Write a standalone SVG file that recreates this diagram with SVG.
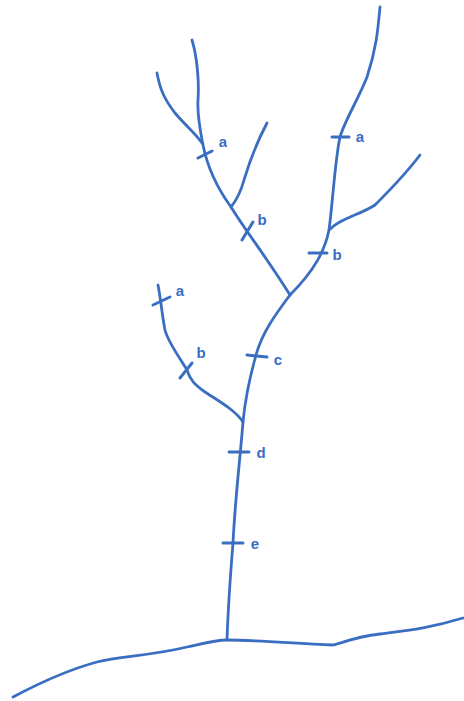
<svg xmlns="http://www.w3.org/2000/svg" width="464" height="701" viewBox="0 0 464 701">
<style>
.s{fill:none;stroke:#3a6ec2;stroke-width:2.8;stroke-linecap:round;stroke-linejoin:round}
.t{fill:none;stroke:#3a6ec2;stroke-width:3;stroke-linecap:round}
.l{font-family:"Liberation Sans",Arial,sans-serif;font-size:15px;font-weight:bold;fill:#3a6ec2;text-anchor:middle}
</style>
<rect width="464" height="701" fill="#ffffff"/>
<g id="connectors">
<path class="s" d="M13,697 C30,688 60,672 97,662 C120,656 150,656 187,647 C205,643 215,640 227,640 C250,640 290,643 333,645 C345,642 355,637 380,634 C410,630 430,628 463,618"/>
<path class="s" d="M290,295 C275,315 262,333 256,355 C249,380 245,400 243,422 C240,460 235,500 233,543 C230,580 228,610 227,640"/>
<path class="s" d="M192,40 C198,60 199,85 198,100 C197,115 200,130 203,145 C207,165 215,185 231,207 C245,230 265,255 290,295"/>
<path class="s" d="M157,73 C160,90 165,100 175,113 C185,125 195,133 202,143"/>
<path class="s" d="M267,123 C258,140 250,160 244,180 C240,195 235,202 231,207"/>
<path class="s" d="M380,7 C378,30 376,50 367,77 C358,100 345,120 340,137 C335,160 333,200 329,230 C325,250 315,270 290,295"/>
<path class="s" d="M420,155 C405,175 390,190 375,205 C360,215 340,218 329,230"/>
<path class="s" d="M158,285 C161,300 162,315 165,330 C168,342 178,355 187,370 C190,380 195,385 205,392 C220,402 235,410 243,422"/>
</g>
<g id="node-a1"><line class="t" x1="198" y1="158" x2="212" y2="151"/><text class="l" x="223" y="147">a</text></g>
<g id="node-b1"><line class="t" x1="242" y1="240" x2="253" y2="222"/><text class="l" x="262" y="225">b</text></g>
<g id="node-a2"><line class="t" x1="332" y1="137" x2="349" y2="137"/><text class="l" x="360" y="142">a</text></g>
<g id="node-b2"><line class="t" x1="309" y1="253" x2="327" y2="253"/><text class="l" x="337" y="260">b</text></g>
<g id="node-a3"><line class="t" x1="153" y1="305" x2="170" y2="297"/><text class="l" x="180" y="296">a</text></g>
<g id="node-b3"><line class="t" x1="180" y1="378" x2="192" y2="363"/><text class="l" x="201" y="358">b</text></g>
<g id="node-c"><line class="t" x1="247" y1="355" x2="267" y2="357"/><text class="l" x="278" y="365">c</text></g>
<g id="node-d"><line class="t" x1="229" y1="452" x2="249" y2="452"/><text class="l" x="261" y="458">d</text></g>
<g id="node-e"><line class="t" x1="223" y1="543" x2="243" y2="543"/><text class="l" x="255" y="549">e</text></g>
</svg>
